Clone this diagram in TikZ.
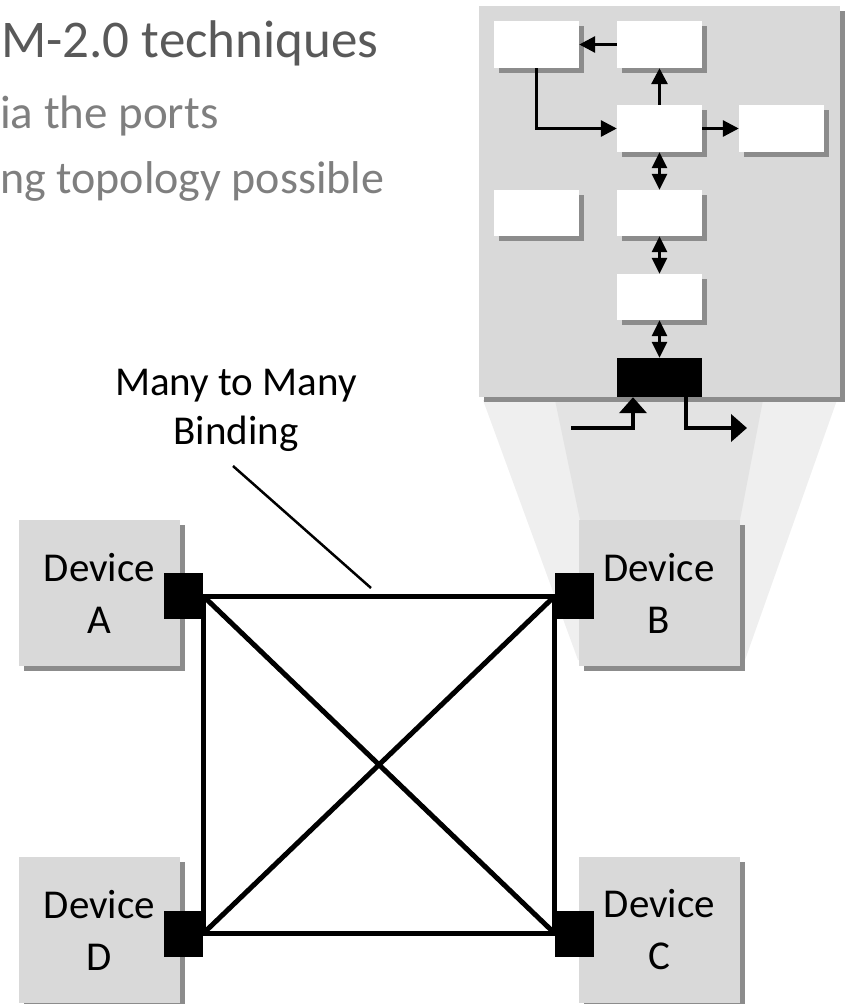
\documentclass[tikz,border=0pt]{standalone}
\usepackage{fontspec}
\setmainfont{Carlito}
\usetikzlibrary{arrows.meta,shadows}

\definecolor{panelgray}{HTML}{D9D9D9}
\definecolor{shadowgray}{HTML}{8C8C8C}
\definecolor{titlegray}{HTML}{595959}
\definecolor{subgray}{HTML}{7F7F7F}
\definecolor{fanlight}{HTML}{EFEFEF}
\definecolor{fandark}{HTML}{E3E3E3}

\tikzset{
  thinarrow/.style={draw, line width=3pt, -{Triangle[length=16pt,width=16pt]}},
  dblarrow/.style={draw, line width=3pt, {Triangle[length=16pt,width=15pt]}-{Triangle[length=16pt,width=15pt]}},
  thickarrow/.style={draw, line width=4.5pt, -{Triangle[length=16pt,width=27pt]}},
}

\begin{document}
\begin{tikzpicture}[x=1pt,y=-1pt]
  \useasboundingbox (0,0) rectangle (847,1004);

  % heading, cut at the left
  \begin{scope}[every node/.style={anchor=base west, inner sep=0pt}]
    \node[text=titlegray, font=\fontsize{53}{60}\selectfont] (title) at (1,57) {M-2.0 techniques};
    \node[text=subgray, font=\fontsize{47}{54}\selectfont] (sub1) at (0,128) {ia the ports};
    \node[text=subgray, font=\fontsize{46}{54}\selectfont] (sub2) at (0,193) {ng topology possible};
  \end{scope}

  % zoom fan from device B
  \fill[fanlight] (483,400) -- (837,400) -- (745,660) -- (578,660) -- cycle;
  \fill[fandark] (555,400) -- (763,400) -- (740,520) -- (580,520) -- cycle;

  \begin{scope}[every node/.style={rectangle, inner sep=0pt,
      drop shadow={shadow xshift=5pt, shadow yshift=-5pt, fill=shadowgray, opacity=1}}]
    \node[fill=panelgray, minimum width=361pt, minimum height=391pt] (panel) at (659.5,201.5) {};
    \node[fill=white, minimum width=85pt, minimum height=47pt] (b1) at (536.5,44.5) {};
    \node[fill=white, minimum width=85pt, minimum height=47pt] (b2) at (659.5,44.5) {};
    \node[fill=white, minimum width=85pt, minimum height=47pt] (b3) at (659.5,128.5) {};
    \node[fill=white, minimum width=85pt, minimum height=47pt] (b4) at (781.5,128.5) {};
    \node[fill=white, minimum width=85pt, minimum height=46pt] (b5) at (536.5,213) {};
    \node[fill=white, minimum width=85pt, minimum height=46pt] (b6) at (659.5,213) {};
    \node[fill=white, minimum width=85pt, minimum height=46pt] (b7) at (659.5,297) {};

    % devices
    \node[fill=panelgray, minimum width=161pt, minimum height=146pt, align=center,
      font=\fontsize{41}{52}\selectfont] (devA) at (99.5,593) {Device\\A};
    \node[fill=panelgray, minimum width=161pt, minimum height=146pt, align=center,
      font=\fontsize{41}{52}\selectfont] (devB) at (659,593) {Device\\B};
    \node[fill=panelgray, minimum width=161pt, minimum height=146pt, align=center,
      font=\fontsize{41}{52}\selectfont] (devD) at (99.5,930) {Device\\D};
    \node[fill=panelgray, minimum width=161pt, minimum height=146pt, align=center,
      font=\fontsize{41}{52}\selectfont] (devC) at (659.5,930) {Device\\C};
  \end{scope}

  \begin{scope}[every node/.style={rectangle, fill=black, inner sep=0pt}]
    \node[minimum width=85pt, minimum height=39pt] (ctrl) at (659.5,377.5) {};
    \node[minimum width=39pt, minimum height=46pt] (portA) at (183.5,596) {};
    \node[minimum width=39pt, minimum height=46pt] (portB) at (574.5,596) {};
    \node[minimum width=39pt, minimum height=46pt] (portD) at (183.5,933.5) {};
    \node[minimum width=39pt, minimum height=46pt] (portC) at (574.5,933.5) {};
  \end{scope}

  % inside the device
  \path[thinarrow] (b2.west) -- (b1.east);
  \path[thinarrow] (b3.north) -- (b2.south);
  \path[thinarrow] (b1.south) |- (b3.west);
  \path[thinarrow] (b3.east) -- (b4.west);
  \path[dblarrow] (b3.south) -- (b6.north);
  \path[dblarrow] (b6.south) -- (b7.north);
  \path[dblarrow] (b7.south) -- (ctrl.north);

  \coordinate (inA) at (571,428);
  \coordinate (outB) at (747,428);
  \path[thickarrow] (inA) -| ([xshift=-26.5pt]ctrl.south);
  \path[thickarrow] ([xshift=26.5pt]ctrl.south) |- (outB);

  % many to many binding
  \begin{scope}[every edge/.style={draw, line width=5pt}]
    \path (portA.east) edge (portB.west);
    \path (portB.west) edge (portC.west);
    \path (portC.west) edge (portD.east);
    \path (portD.east) edge (portA.east);
    \path (portA.east) edge (portC.west);
    \path (portB.west) edge (portD.east);
  \end{scope}

  \node[align=center, inner sep=0pt, font=\fontsize{41}{49}\selectfont] (bindlbl) at (236,410) {Many to Many\\Binding};
  \coordinate (lead1) at (233,466);
  \coordinate (lead2) at (371,588);
  \draw[line width=2.5pt] (lead1) -- (lead2);

\end{tikzpicture}
\end{document}
